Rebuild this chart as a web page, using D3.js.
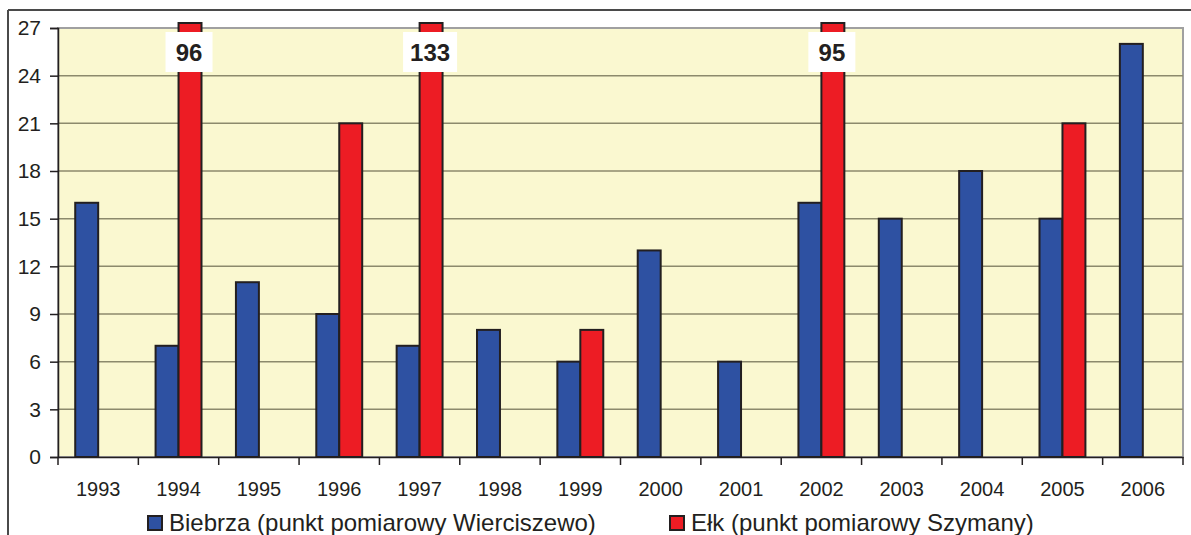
<!DOCTYPE html>
<html>
<head>
<meta charset="utf-8">
<script src="https://d3js.org/d3.v7.min.js"></script>
<style>
	body { margin: 0; background: #fff; }
	svg { font-family: "Liberation Sans", Arial, sans-serif; }
	.grid line { stroke: #8c8a6c; stroke-width: 1.5px; }
	.tick text { fill: #231f20; }
</style>
</head>
<body>
<svg id="chart" width="1191" height="535"></svg>
<script>
// data
var years = ["1993","1994","1995","1996","1997","1998","1999","2000","2001","2002","2003","2004","2005","2006"];
var biebrza = [16, 7, 11, 9, 7, 8, 6, 13, 6, 16, 15, 18, 15, 26];
var elk = [null, 96, null, 21, 133, null, 8, null, null, 95, null, null, 21, null];
var yTicks = [0, 3, 6, 9, 12, 15, 18, 21, 24, 27];
var seriesNames = ["Biebrza (punkt pomiarowy Wierciszewo)", "Ełk (punkt pomiarowy Szymany)"];
var colors = ["#2e51a2", "#ed1c24"];

(function() {
var svg = d3.select("#chart");
var pLeft = 58, pRight = 1183, pTop = 28, pBottom = 457;
var yMax = 27;

// outer frame (only top and left edges visible)
svg.append("line").attr("x1", 8).attr("x2", 1191).attr("y1", 10).attr("y2", 10)
	.attr("stroke", "#4a4a4a").attr("stroke-width", 2);
svg.append("line").attr("x1", 8).attr("x2", 8).attr("y1", 10).attr("y2", 535)
	.attr("stroke", "#4a4a4a").attr("stroke-width", 2);

var x = d3.scaleBand().domain(years).range([pLeft, pRight]);
var x1 = d3.scaleBand().domain([0, 1]).range([0, x.bandwidth()]).paddingInner(0).paddingOuter(0.75);
var y = d3.scaleLinear().domain([0, yMax]).range([pBottom, pTop]);

// plot background
svg.append("rect").attr("x", pLeft).attr("y", pTop).attr("width", pRight - pLeft).attr("height", pBottom - pTop)
	.attr("fill", "#faf8d0").attr("stroke", "#a0a0a0").attr("stroke-width", 2);

// gridlines
svg.append("g").attr("class", "grid")
	.selectAll("line").data(yTicks.slice(1, -1)).enter().append("line")
	.attr("x1", pLeft).attr("x2", pRight)
	.attr("y1", function(d) { return y(d); }).attr("y2", function(d) { return y(d); });

// bars
var rows = [];
years.forEach(function(yr, i) {
	rows.push({year: yr, s: 0, v: biebrza[i]});
	if (elk[i] != null) rows.push({year: yr, s: 1, v: elk[i]});
});

var topLimit = pTop - 5;
svg.append("g").selectAll("rect").data(rows).enter().append("rect")
	.attr("x", function(d) { return x(d.year) + x1(d.s); })
	.attr("width", x1.bandwidth())
	.attr("y", function(d) { return Math.max(y(d.v), topLimit); })
	.attr("height", function(d) { return pBottom - Math.max(y(d.v), topLimit); })
	.attr("fill", function(d) { return colors[d.s]; })
	.attr("stroke", "#231f20").attr("stroke-width", 2);

// labels for clipped bars
var clipped = rows.filter(function(d) { return d.v > yMax; });
var lab = svg.append("g").selectAll("g").data(clipped).enter().append("g")
	.attr("transform", function(d) { return "translate(" + (x(d.year) + x1(d.s) + x1.bandwidth() / 2 - 1) + ",52)"; });
lab.append("rect")
	.attr("x", function(d) { return -(String(d.v).length * 7 + 33) / 2; })
	.attr("width", function(d) { return String(d.v).length * 7 + 33; })
	.attr("y", -20).attr("height", 40).attr("fill", "#fff");
lab.append("text").attr("text-anchor", "middle").attr("dy", "0.36em")
	.attr("font-size", 24).attr("font-weight", "bold").attr("fill", "#231f20")
	.text(function(d) { return d.v; });

// axes
var yAxis = svg.append("g").attr("transform", "translate(" + pLeft + ",0)")
	.call(d3.axisLeft(y).tickValues(yTicks).tickSize(8).tickPadding(9));
yAxis.select(".domain").attr("stroke", "#231f20").attr("stroke-width", 1.5);
yAxis.selectAll(".tick line").attr("stroke", "#231f20").attr("stroke-width", 1.5);
yAxis.selectAll(".tick text").attr("font-size", 21);

var xAxis = svg.append("g").attr("transform", "translate(0," + pBottom + ")")
	.call(d3.axisBottom(x).tickSize(0).tickPadding(25));
xAxis.select(".domain").attr("stroke", "#231f20").attr("stroke-width", 1.5);
xAxis.selectAll(".tick text").attr("font-size", 20);
xAxis.selectAll("line.sep").data(years.concat(["end"])).enter().append("line")
	.attr("class", "sep")
	.attr("x1", function(d, i) { return pLeft + i * x.step(); })
	.attr("x2", function(d, i) { return pLeft + i * x.step(); })
	.attr("y1", 0).attr("y2", 8)
	.attr("stroke", "#231f20").attr("stroke-width", 1.5);

// legend
var legX = [147, 669];
var leg = svg.append("g").selectAll("g").data(seriesNames).enter().append("g")
	.attr("transform", function(d, i) { return "translate(" + legX[i] + ",515)"; });
leg.append("rect").attr("x", 1).attr("y", 1).attr("width", 14).attr("height", 14)
	.attr("fill", function(d, i) { return colors[i]; })
	.attr("stroke", "#231f20").attr("stroke-width", 2);
leg.append("text").attr("x", 22).attr("y", 16)
	.attr("font-size", 24).attr("fill", "#231f20")
	.text(function(d) { return d; });
})();
</script>
</body>
</html>
